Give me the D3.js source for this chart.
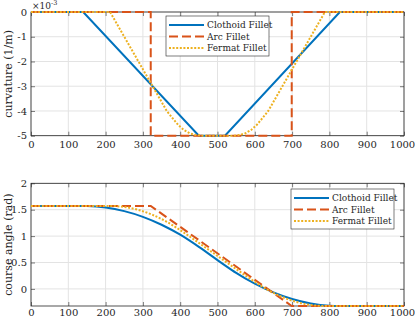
<!DOCTYPE html>
<html>
<head>
<meta charset="utf-8">
<script src="https://cdn.jsdelivr.net/npm/d3@7"></script>
<style>
  body { margin: 0; background: #fff; }
</style>
</head>
<body>
<div id="chart"></div>
<script>
// tick labels
var xTicks = [0, 100, 200, 300, 400, 500, 600, 700, 800, 900, 1000];
var curvTicks = [-5, -4, -3, -2, -1, 0];
var angleTicks = [0, 0.5, 1, 1.5, 2];
var seriesNames = ["Clothoid Fillet", "Arc Fillet", "Fermat Fillet"];

// curvature (1/m) vs arc length
var clothoidS = [0, 140, 450, 520, 828, 1000];
var clothoidK = [0, 0, -0.005, -0.005, 0, 0];
var arcS = [0, 321, 321, 699, 699, 1000];
var arcK = [0, 0, -0.005, -0.005, 0, 0];
var fermatS = [0, 212, 250, 288, 326, 364, 380, 395, 410, 425, 440, 455, 545, 560, 575, 590, 605, 620, 636, 674, 712, 750, 788, 1000];
var fermatK = [0, 0, -0.001, -0.002, -0.003, -0.004, -0.0043, -0.00457, -0.00477, -0.0049, -0.00497, -0.005, -0.005, -0.00497, -0.0049, -0.00477, -0.00457, -0.0043, -0.004, -0.003, -0.002, -0.001, 0, 0];

// course angle (rad) vs arc length
var clothoidS2 = [0, 140, 150, 200, 250, 300, 350, 400, 450, 500, 520, 550, 600, 650, 700, 750, 800, 828, 1000];
var clothoidA = [1.571, 1.571, 1.570, 1.542, 1.473, 1.365, 1.215, 1.026, 0.796, 0.546, 0.446, 0.303, 0.098, -0.067, -0.191, -0.275, -0.318, -0.324, -0.324];
var arcS2 = [0, 321, 699, 1000];
var arcA = [1.571, 1.571, -0.324, -0.324];
var fermatS2 = [0, 212, 250, 288, 326, 364, 390, 420, 450, 500, 550, 580, 610, 636, 674, 712, 750, 788, 1000];
var fermatA = [1.571, 1.571, 1.552, 1.496, 1.402, 1.270, 1.159, 1.018, 0.871, 0.624, 0.376, 0.229, 0.088, -0.023, -0.155, -0.249, -0.305, -0.324, -0.324];

var colors = ["#0072BD", "#D95319", "#EDB120"];
var dashes = [null, "9,4", "2,1.6"];
var serif = "'DejaVu Serif', serif";

var svg = d3.select("#chart")
    .append("svg")
        .attr("width", 415)
        .attr("height", 319);

var left = 31, right = 404;

var scaleX = d3.scaleLinear().domain([0, 1000]).range([left, right]);
var scaleK = d3.scaleLinear().domain([-0.005, 0]).range([135.7, 12]);
var scaleA = d3.scaleLinear().domain([-0.324, 2]).range([306, 183.3]);

function zip(xs, ys) {
    return xs.map(function(x, i) { return [x, ys[i]]; });
}

function drawAxes(scaleY, yTicks, yValue, yFormat, labelText, xPad) {
    var top = scaleY.range()[1], bottom = scaleY.range()[0];
    var g = svg.append("g");

    // grid
    g.selectAll(".gx").data(xTicks).enter().append("line")
        .attr("x1", d => scaleX(d)).attr("x2", d => scaleX(d))
        .attr("y1", top).attr("y2", bottom)
        .attr("stroke", "#e3e3e3").attr("stroke-width", 1);
    g.selectAll(".gy").data(yTicks).enter().append("line")
        .attr("x1", left).attr("x2", right)
        .attr("y1", d => scaleY(yValue(d))).attr("y2", d => scaleY(yValue(d)))
        .attr("stroke", "#e3e3e3").attr("stroke-width", 1);

    // axes with inner ticks
    var xAxis = g.append("g")
        .attr("transform", "translate(0," + bottom + ")")
        .call(d3.axisBottom(scaleX).tickValues(xTicks).tickSizeInner(-4).tickSizeOuter(0).tickPadding(xPad)
            .tickFormat(d3.format("d")))
        .call(ax => ax.select(".domain").remove());
    // last label sits a little left so it stays inside the figure
    xAxis.selectAll(".tick text").filter(d => d == 1000).attr("dx", -2);

    g.append("g")
        .attr("transform", "translate(0," + top + ")")
        .call(d3.axisTop(scaleX).tickValues(xTicks).tickSizeInner(-4).tickSizeOuter(0).tickFormat(""))
        .call(ax => ax.select(".domain").remove());
    g.append("g")
        .attr("transform", "translate(" + left + ",0)")
        .call(d3.axisLeft(scaleY).tickValues(yTicks.map(yValue)).tickSizeInner(-4).tickSizeOuter(0).tickPadding(4)
            .tickFormat(yFormat))
        .call(ax => ax.select(".domain").remove());
    g.append("g")
        .attr("transform", "translate(" + right + ",0)")
        .call(d3.axisRight(scaleY).tickValues(yTicks.map(yValue)).tickSizeInner(-4).tickSizeOuter(0).tickFormat(""))
        .call(ax => ax.select(".domain").remove());

    g.selectAll(".tick line").attr("stroke", "#262626").attr("stroke-width", 0.6);
    g.selectAll(".tick text").attr("font-size", 10).attr("fill", "#262626");

    g.append("rect")
        .attr("x", left).attr("y", top)
        .attr("width", right - left).attr("height", bottom - top)
        .attr("fill", "none").attr("stroke", "#262626").attr("stroke-width", 0.8);

    svg.append("text")
        .attr("transform", "rotate(-90)")
        .attr("x", -(top + bottom) / 2)
        .attr("y", 12)
        .attr("text-anchor", "middle")
        .attr("font-size", 11)
        .text(labelText);
}

function drawLines(series, scaleY, smooth) {
    series.forEach(function(pts, i) {
        svg.append("path")
            .datum(pts)
            .attr("fill", "none")
            .attr("stroke", colors[i])
            .attr("stroke-width", 2)
            .attr("stroke-dasharray", dashes[i])
            .attr("d", d3.line()
                .x(d => scaleX(d[0]))
                .y(d => scaleY(d[1]))
                .curve(smooth && i != 1 ? d3.curveMonotoneX : d3.curveLinear));
    });
}

function drawLegend(x, y) {
    var lg = svg.append("g").attr("transform", "translate(" + x + "," + y + ")");
    lg.append("rect")
        .attr("width", 103).attr("height", 40)
        .attr("fill", "#fff").attr("stroke", "#262626").attr("stroke-width", 0.6);
    seriesNames.forEach(function(name, i) {
        var yy = 9 + i * 11.5;
        lg.append("line")
            .attr("x1", 3).attr("x2", 38)
            .attr("y1", yy).attr("y2", yy)
            .attr("stroke", colors[i]).attr("stroke-width", 2)
            .attr("stroke-dasharray", dashes[i]);
        lg.append("text")
            .attr("x", 41).attr("y", yy + 3.3)
            .attr("font-size", 9)
            .text(name);
    });
}

// top: curvature
drawAxes(scaleK, curvTicks, d => d / 1000, d => String(Math.round(d * 1000)), "curvature (1/m)", 5);
drawLines([zip(clothoidS, clothoidK), zip(arcS, arcK), zip(fermatS, fermatK)], scaleK, false);
drawLegend(166, 16);

var mult = svg.append("text").attr("x", 32).attr("y", 9).attr("font-size", 9);
mult.append("tspan").text("\u00d710");
mult.append("tspan").attr("dy", -4).attr("font-size", 6.5).text("-3");

// bottom: course angle
drawAxes(scaleA, angleTicks, d => d, d3.format(""), "course angle (rad)", 3);
drawLines([zip(clothoidS2, clothoidA), zip(arcS2, arcA), zip(fermatS2, fermatA)], scaleA, true);
drawLegend(291, 189);

// serif font everywhere, like the LaTeX interpreter
svg.selectAll("text").style("font-family", serif).attr("fill", "#262626");
</script>
</body>
</html>
